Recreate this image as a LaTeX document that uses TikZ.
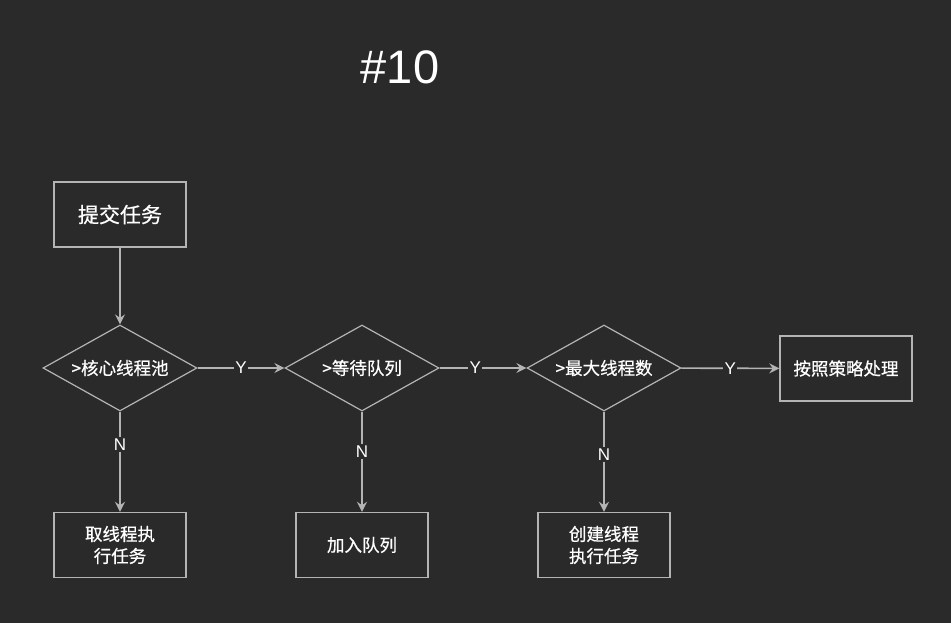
\documentclass[tikz,border=0pt]{standalone}
\usepackage{fontspec}
\setmainfont{Liberation Sans}
\newfontfamily\cjk[FakeBold=0.6]{Noto Sans CJK SC}
\usetikzlibrary{shapes.geometric,arrows.meta}
\definecolor{bgc}{HTML}{2A2A2A}
\definecolor{linec}{HTML}{B4B4B4}
\tikzset{
  x=1pt,y=-1pt,
  box/.style={draw=linec,line width=1.4pt,minimum width=132pt,minimum height=65pt,inner sep=0pt,text=white,font=\cjk\fontsize{17.5}{22}\selectfont,align=center},
  dia/.style={diamond,draw=linec,line width=1.2pt,minimum width=154pt,minimum height=86pt,aspect=1.79,inner sep=0pt,text=white,font=\cjk\fontsize{17.5}{22}\selectfont},
  conn/.style={draw=linec,line width=1.6pt,-{Stealth[length=10pt,width=10pt,inset=3.5pt]}},
  lbl/.style={fill=bgc,text=white,inner sep=1.5pt,font=\fontsize{17}{18}\selectfont}
}
\begin{document}
\begin{tikzpicture}
\fill[bgc] (0,0) rectangle (951,623);
\useasboundingbox (0,0) rectangle (951,623);
\node[text=white,font=\fontsize{47}{50}\selectfont] (title) at (400,67) {\#10};
\node[box,font=\cjk\fontsize{21}{24}\selectfont] (submit) at (120,214.5) {提交任务};
\node[dia] (d1) at (120,368) {>核心线程池};
\node[dia] (d2) at (362,368) {>等待队列};
\node[dia] (d3) at (604,368) {>最大线程数};
\node[box] (policy) at (846,368.5) {按照策略处理};
\node[box] (b1) at (120,545) {取线程执\\行任务};
\node[box] (b2) at (362,545) {加入队列};
\node[box] (b3) at (604,545) {创建线程\\执行任务};
\draw[conn] (submit) -- (d1);
\draw[conn] (d1) -- node[lbl,pos=0.5]{Y} (d2);
\draw[conn] (d2) -- node[lbl,pos=0.41]{Y} (d3);
\draw[conn] (d3) -- node[lbl,pos=0.5]{Y} (policy);
\draw[conn] (d1) -- node[lbl,pos=0.33]{N} (b1);
\draw[conn] (d2) -- node[lbl,pos=0.4]{N} (b2);
\draw[conn] (d3) -- node[lbl,pos=0.43]{N} (b3);
\end{tikzpicture}
\end{document}
